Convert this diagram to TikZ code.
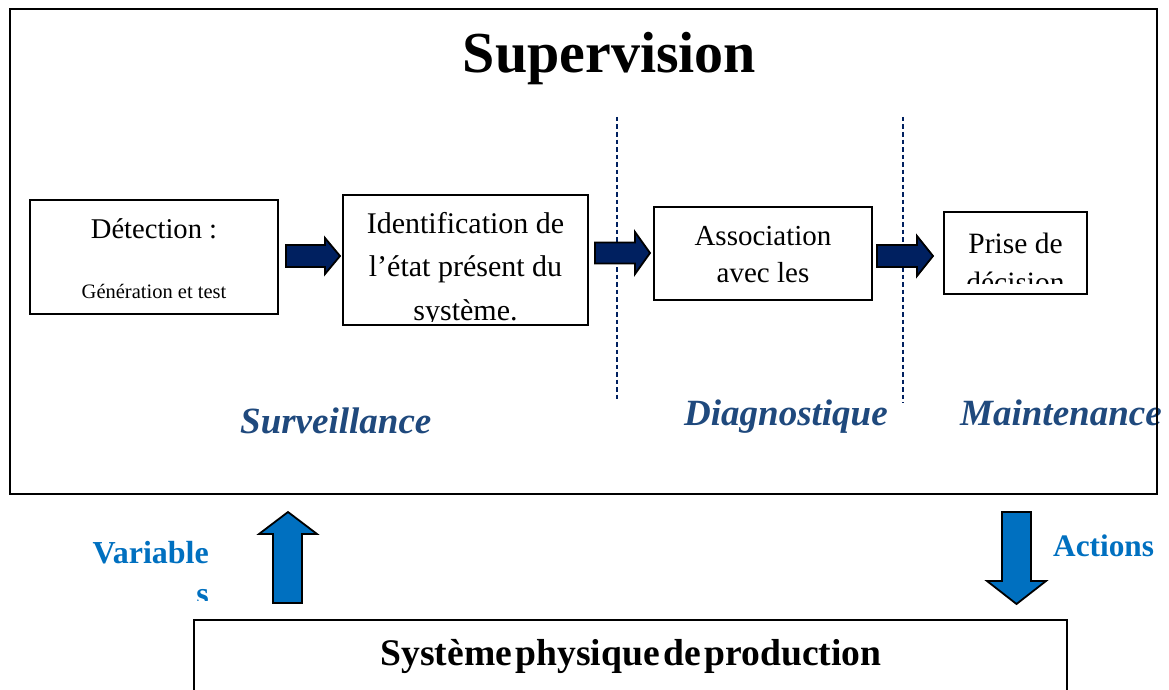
\documentclass[tikz,border=0pt]{standalone}
\usepackage{fontspec}
\setmainfont{Liberation Serif}
\definecolor{navyfill}{RGB}{0,32,96}
\definecolor{bluefill}{RGB}{0,112,192}
\definecolor{phase}{RGB}{31,73,125}
\definecolor{dashcol}{RGB}{0,32,96}
\tikzset{
  stage/.style={draw=black, line width=1.8pt, fill=white, inner sep=0pt},
  txt/.style={inner sep=0pt, anchor=base},
  phaselab/.style={inner sep=0pt, anchor=base west, text=phase,
    font=\fontsize{37}{41}\selectfont\bfseries\itshape},
  iolab/.style={inner sep=0pt, text=bluefill,
    font=\fontsize{32}{36}\selectfont\bfseries},
  sep/.style={draw=dashcol, line width=1.1pt, dash pattern=on 4.5pt off 3pt},
  flow/.style={fill=navyfill, draw=black, line width=1.8pt},
  io/.style={fill=bluefill, draw=black, line width=1.8pt},
}
% horizontal block arrow: start x, head x, tip x, centre y, half shaft, half head
\newcommand{\flowarrow}[6]{%
  \filldraw[flow] (#1,{#4-#5}) -- (#2,{#4-#5}) -- (#2,{#4-#6}) -- (#3,#4)
    -- (#2,{#4+#6}) -- (#2,{#4+#5}) -- (#1,{#4+#5}) -- cycle;}
\begin{document}
\begin{tikzpicture}[x=1pt,y=-1pt]
\useasboundingbox (0,0) rectangle (1169,690);
\fill[white] (0,0) rectangle (1169,690);

% supervision frame
\node[draw=black, line width=2pt, minimum width=1147, minimum height=485, inner sep=0pt]
  (sup) at (583.5,251.5) {};
\node[txt, font=\fontsize{58}{64}\selectfont\bfseries] (suptitle) at (609.5,73) {Supervision};

% phase separators
\coordinate (s1a) at (617,117); \coordinate (s1b) at (617,400);
\coordinate (s2a) at (903,117); \coordinate (s2b) at (903,403);
\draw[sep] (s1a) -- (s1b);
\draw[sep] (s2a) -- (s2b);

% stages
\node[stage, minimum width=248, minimum height=114] (det) at (154,257) {};
\node[stage, minimum width=245, minimum height=130] (ident) at (465.5,260) {};
\node[stage, minimum width=218, minimum height=93]  (assoc) at (763,253.5) {};
\node[stage, minimum width=143, minimum height=82]  (dec) at (1015.5,253) {};

\node[txt, font=\fontsize{28.6}{32}\selectfont] at (154,238) {Détection :};
\node[txt, font=\fontsize{20.5}{24}\selectfont] at (154,298) {Génération et test};

\begin{scope}
  \clip (344,196) rectangle (587,321);
  \node[txt, font=\fontsize{30}{36}\selectfont] at (465.5,233) {Identification de};
  \node[txt, font=\fontsize{30}{36}\selectfont] at (465.5,276) {l’état présent du};
  \node[txt, font=\fontsize{30}{36}\selectfont] at (465.5,320) {système.};
\end{scope}

\begin{scope}
  \clip (655,208) rectangle (871,289);
  \node[txt, font=\fontsize{29}{34}\selectfont] at (763,245) {Association};
  \node[txt, font=\fontsize{29}{34}\selectfont] at (763,282) {avec les};
  \node[txt, font=\fontsize{29}{34}\selectfont] at (763,319) {diagnostics};
\end{scope}

\begin{scope}
  \clip (945,213) rectangle (1086,283);
  \node[txt, font=\fontsize{29.5}{34}\selectfont] at (1015.5,253) {Prise de};
  \node[txt, font=\fontsize{29.5}{34}\selectfont] at (1015.5,292) {décision};
\end{scope}

% flow between stages
\flowarrow{286}{325}{340}{256}{11}{18}
\flowarrow{595}{635}{650}{253}{10.5}{21}
\flowarrow{877}{917}{933}{256}{11}{20}

% phase names
\node[phaselab] (surv) at (240,433) {Surveillance};
\node[phaselab] (diag) at (684,425) {Diagnostique};
\node[phaselab] (maint) at (960,425) {Maintenance};
\draw[black, line width=2pt] (1157,380) -- (1157,440);

% physical system
\draw[black, line width=1.8pt] (194,695) -- (194,620) -- (1067,620) -- (1067,695);
\node[txt, font=\fontsize{37.6}{42}\selectfont\bfseries] (phys) at (631,665)
  {\spaceskip=3.5pt Système physique de production};

% measured variables going up
\filldraw[io] (273,603) -- (273,534) -- (259,534) -- (288,512) -- (317,534)
  -- (302,534) -- (302,603) -- cycle;
\begin{scope}
  \clip (60,520) rectangle (230,600);
  \node[iolab, anchor=base east] (var) at (209,563) {Variable};
  \node[iolab, anchor=base east] at (209,604) {s};
\end{scope}

% actions going down
\filldraw[io] (1002,512) -- (1031,512) -- (1031,581) -- (1046,581) -- (1016.5,604)
  -- (987,581) -- (1002,581) -- cycle;
\node[iolab, anchor=base west, font=\fontsize{31.3}{36}\selectfont\bfseries] (act) at (1053,556) {Actions};
\end{tikzpicture}
\end{document}
